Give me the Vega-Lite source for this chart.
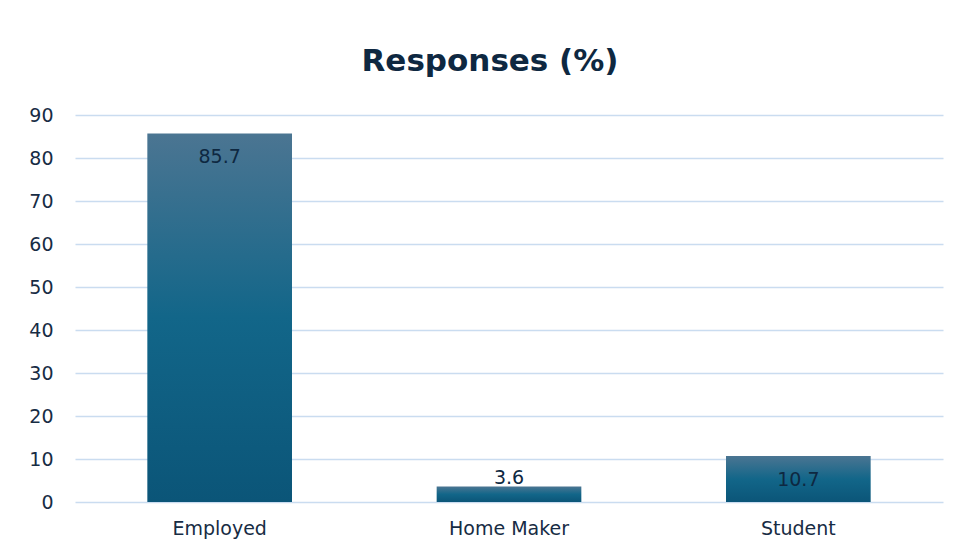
{
  "$schema": "https://vega.github.io/schema/vega-lite/v6.json",
  "autosize": {"type": "none"},
  "padding": {"left": 75, "top": 115, "right": 14, "bottom": 49},
  "width": 868,
  "height": 387,
  "background": "white",
  "title": {
    "text": "Responses (%)",
    "anchor": "middle",
    "frame": "group",
    "dx": -19,
    "offset": 28,
    "fontSize": 31,
    "font": "DejaVu Sans",
    "fontWeight": "bold",
    "color": "#0e2841"
  },
  "data": {
    "values": [
      {"category": "Employed", "value": 85.7},
      {"category": "Home Maker", "value": 3.6},
      {"category": "Student", "value": 10.7}
    ]
  },
  "encoding": {
    "x": {
      "field": "category",
      "type": "nominal",
      "sort": null,
      "scale": {"paddingInner": 0.5, "paddingOuter": 0.25},
      "axis": {
        "title": null,
        "labelAngle": 0,
        "labelFontSize": 19,
        "labelFont": "DejaVu Sans",
        "labelColor": "#172c44",
        "labelPadding": 17,
        "ticks": false,
        "domain": false
      }
    },
    "y": {
      "field": "value",
      "type": "quantitative",
      "scale": {"domain": [0, 90]},
      "axis": {
        "title": null,
        "values": [0, 10, 20, 30, 40, 50, 60, 70, 80, 90],
        "labelFontSize": 19,
        "labelFont": "DejaVu Sans",
        "labelColor": "#172c44",
        "labelPadding": 22,
        "ticks": false,
        "domain": false,
        "grid": true,
        "gridColor": "#cadcf0",
        "gridWidth": 1.5
      }
    }
  },
  "layer": [
    {
      "mark": {
        "type": "bar",
        "color": {
          "gradient": "linear",
          "x1": 0, "y1": 0, "x2": 0, "y2": 1,
          "stops": [
            {"offset": 0, "color": "#4b7592"},
            {"offset": 0.5, "color": "#126689"},
            {"offset": 1, "color": "#0b5578"}
          ]
        }
      }
    },
    {
      "transform": [{"filter": "datum.value >= 10"}],
      "mark": {"type": "text", "baseline": "alphabetic", "dy": 30, "fontSize": 19, "font": "DejaVu Sans", "color": "#0e2841"},
      "encoding": {"text": {"field": "value", "type": "quantitative", "format": ".1f"}}
    },
    {
      "transform": [{"filter": "datum.value < 10"}],
      "mark": {"type": "text", "baseline": "alphabetic", "dy": -3, "fontSize": 19, "font": "DejaVu Sans", "color": "#0e2841"},
      "encoding": {"text": {"field": "value", "type": "quantitative", "format": ".1f"}}
    }
  ],
  "config": {"view": {"stroke": null}}
}
